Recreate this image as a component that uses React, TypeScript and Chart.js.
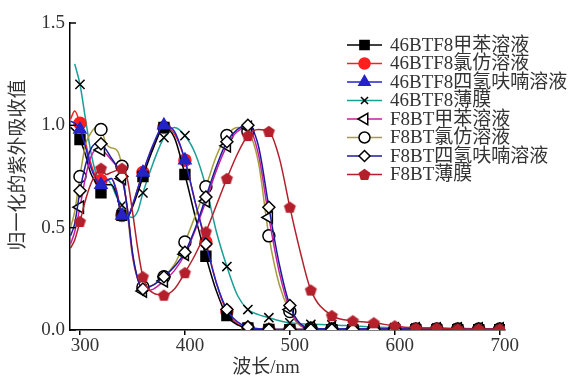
import React, { useEffect, useRef } from 'react';
import { Chart, registerables } from 'chart.js';
import { drawPoint } from 'chart.js/helpers';

Chart.register(...registerables);

// ---- data ----
const WAVELENGTHS = [291, 295, 300, 305, 310, 315, 320, 325, 330, 335, 340, 345, 350, 355, 360, 370, 380, 390, 400, 410, 420, 430, 440, 450, 460, 470, 480, 490, 500, 510, 520, 540, 560, 580, 600, 620, 640, 660, 680, 700];
const X_TICKS = [300, 400, 500, 600, 700];
const Y_TICKS = [0, 0.5, 1.0, 1.5];

const SERIES_NAMES = [
  '46BTF8甲苯溶液',
  '46BTF8氯仿溶液',
  '46BTF8四氢呋喃溶液',
  '46BTF8薄膜',
  'F8BT甲苯溶液',
  'F8BT氯仿溶液',
  'F8BT四氢呋喃溶液',
  'F8BT薄膜',
];

const BTF8_TOLUENE = [0.99, 0.97, 0.93, 0.86, 0.77, 0.72, 0.67, 0.71, 0.71, 0.66, 0.56, 0.55, 0.60, 0.67, 0.75, 0.89, 0.99, 0.94, 0.76, 0.55, 0.36, 0.19, 0.07, 0.025, 0.01, 0.005, 0.003, 0.002, 0.002, 0.002, 0.002, 0.002, 0.002, 0.002, 0.002, 0.002, 0.002, 0.002, 0.002, 0.002];
const BTF8_CHLOROFORM = [1.03, 1.07, 1.01, 0.92, 0.82, 0.75, 0.73, 0.73, 0.74, 0.68, 0.56, 0.55, 0.61, 0.69, 0.77, 0.90, 0.99, 0.96, 0.83, 0.62, 0.43, 0.23, 0.09, 0.03, 0.01, 0.004, 0.002, 0.002, 0.002, 0.002, 0.002, 0.002, 0.002, 0.002, 0.002, 0.002, 0.002, 0.002, 0.002, 0.002];
const BTF8_THF = [1.02, 1.01, 0.98, 0.90, 0.80, 0.74, 0.71, 0.73, 0.74, 0.67, 0.56, 0.55, 0.61, 0.69, 0.77, 0.91, 1.0, 0.97, 0.83, 0.62, 0.42, 0.23, 0.10, 0.04, 0.015, 0.006, 0.003, 0.002, 0.002, 0.002, 0.002, 0.002, 0.002, 0.002, 0.002, 0.002, 0.002, 0.002, 0.002, 0.002];
const BTF8_FILM = [null, 1.30, 1.20, 1.04, 0.88, 0.77, 0.73, 0.74, 0.71, 0.65, 0.61, 0.56, 0.55, 0.58, 0.67, 0.82, 0.94, 0.99, 0.95, 0.86, 0.70, 0.48, 0.31, 0.17, 0.10, 0.075, 0.06, 0.045, 0.035, 0.03, 0.028, 0.025, 0.02, 0.015, 0.012, 0.01, 0.01, 0.008, 0.006, 0.005];
const F8BT_TOLUENE = [0.42, 0.48, 0.60, 0.74, 0.84, 0.88, 0.88, 0.86, 0.83, 0.80, 0.74, 0.60, 0.37, 0.25, 0.19, 0.20, 0.24, 0.29, 0.37, 0.49, 0.63, 0.78, 0.90, 0.97, 0.99, 0.86, 0.55, 0.28, 0.10, 0.025, 0.01, 0.005, 0.005, 0.005, 0.005, 0.005, 0.005, 0.005, 0.005, 0.005];
const F8BT_CHLOROFORM = [0.50, 0.58, 0.75, 0.90, 0.96, 0.99, 0.98, 0.91, 0.89, 0.88, 0.80, 0.58, 0.36, 0.25, 0.21, 0.22, 0.26, 0.32, 0.43, 0.56, 0.70, 0.85, 0.95, 0.99, 0.97, 0.82, 0.46, 0.22, 0.09, 0.02, 0.008, 0.005, 0.005, 0.005, 0.005, 0.005, 0.005, 0.005, 0.005, 0.005];
const F8BT_THF = [0.46, 0.52, 0.68, 0.80, 0.88, 0.91, 0.91, 0.88, 0.84, 0.80, 0.75, 0.60, 0.38, 0.25, 0.20, 0.22, 0.26, 0.31, 0.38, 0.50, 0.65, 0.80, 0.92, 0.98, 1.00, 0.90, 0.60, 0.32, 0.12, 0.03, 0.01, 0.005, 0.005, 0.005, 0.005, 0.005, 0.005, 0.005, 0.005, 0.005];
const F8BT_FILM = [0.40, 0.44, 0.53, 0.63, 0.71, 0.76, 0.79, 0.76, 0.77, 0.78, 0.79, 0.74, 0.58, 0.40, 0.26, 0.18, 0.17, 0.20, 0.28, 0.37, 0.48, 0.61, 0.74, 0.86, 0.95, 0.98, 0.97, 0.84, 0.60, 0.38, 0.195, 0.07, 0.045, 0.035, 0.02, 0.01, 0.01, 0.005, 0.005, 0.005];

const SERIES_VALUES = [BTF8_TOLUENE, BTF8_CHLOROFORM, BTF8_THF, BTF8_FILM, F8BT_TOLUENE, F8BT_CHLOROFORM, F8BT_THF, F8BT_FILM];

// ---- styles ----
const STYLES: any[] = [
  { line: '#000000', marker: 'rect', fill: '#000000', stroke: '#000000', radius: 7, rotation: 0, order: 5 },
  { line: '#ff1f1f', marker: 'circle', fill: '#ff1f1f', stroke: '#ff1f1f', radius: 6, rotation: 0, order: 6 },
  { line: '#2323c8', marker: 'triangle', fill: '#2323c8', stroke: '#2323c8', radius: 7, rotation: 0, order: 1 },
  { line: '#1a9e98', marker: 'crossRot', fill: '#000000', stroke: '#000000', radius: 6.5, rotation: 0, order: 7 },
  { line: '#c81ea0', marker: 'triangle', fill: '#ffffff', stroke: '#000000', radius: 7, rotation: -90, order: 3 },
  { line: '#a59c3c', marker: 'circle', fill: '#ffffff', stroke: '#000000', radius: 6, rotation: 0, order: 4 },
  { line: '#1c1c9a', marker: 'rectRot', fill: '#ffffff', stroke: '#000000', radius: 6, rotation: 0, order: 2 },
  { line: '#b3202c', marker: 'pentagon', fill: '#b3202c', stroke: '#b3202c', radius: 6, rotation: 0, order: 0 },
];

const SERIF = '"Liberation Serif", "Noto Sans CJK SC", serif';

function makePentagon(r: number, color: string) {
  const size = Math.ceil(r * 2 + 2);
  const c = document.createElement('canvas');
  c.width = size;
  c.height = size;
  const g = c.getContext('2d')!;
  g.beginPath();
  for (let i = 0; i < 5; i++) {
    const a = -Math.PI / 2 + (i * 2 * Math.PI) / 5;
    const px = size / 2 + r * Math.cos(a);
    const py = size / 2 + 0.5 + r * Math.sin(a);
    if (i === 0) g.moveTo(px, py);
    else g.lineTo(px, py);
  }
  g.closePath();
  g.fillStyle = color;
  g.fill();
  return c;
}

export default function App() {
  const ref = useRef<HTMLCanvasElement | null>(null);

  useEffect(() => {
    const canvas = ref.current;
    if (!canvas) return;
    const pent = makePentagon(6.3, '#b3202c');
    const markerStyle = (s: any) => (s.marker === 'pentagon' ? pent : s.marker);
    const isMarker = (i: number) => WAVELENGTHS[i] % 20 === 0;

    const datasets = SERIES_VALUES.map((vals, k) => {
      const s = STYLES[k];
      const base: any = {
        label: SERIES_NAMES[k],
        data: vals.map((v, i) => ({ x: WAVELENGTHS[i], y: v })),
        borderColor: s.line,
        backgroundColor: s.fill,
        borderWidth: 1.5,
        cubicInterpolationMode: 'monotone',
        order: s.order,
        pointStyle: markerStyle(s),
        pointRotation: s.rotation,
        pointBackgroundColor: s.fill,
        pointBorderColor: s.stroke,
        pointBorderWidth: 1.5,
        pointRadius: (c: any) => (isMarker(c.dataIndex) ? s.radius : 0),
        pointHoverRadius: (c: any) => (isMarker(c.dataIndex) ? s.radius : 0),
      };
      if (k === 2) {
        // 46BTF8 THF: filled triangles up to 400 nm, then open diamonds
        base.pointStyle = (c: any) => (WAVELENGTHS[c.dataIndex] <= 400 ? 'triangle' : 'rectRot');
        base.pointBackgroundColor = (c: any) => (WAVELENGTHS[c.dataIndex] <= 400 ? s.fill : '#ffffff');
        base.pointBorderColor = (c: any) => (WAVELENGTHS[c.dataIndex] <= 400 ? s.stroke : '#000000');
        base.pointRadius = (c: any) => {
          const w = WAVELENGTHS[c.dataIndex];
          if (w % 20 !== 0 || w > 600) return 0;
          return w <= 400 ? 7 : 6;
        };
      }
      return base;
    });

    const overlay = {
      id: 'overlay',
      afterDraw(chart: any) {
        const ctx = chart.ctx;
        const area = chart.chartArea;
        const y = chart.scales.y;
        ctx.save();
        // inward y ticks
        ctx.strokeStyle = '#000';
        ctx.lineWidth = 1.5;
        Y_TICKS.forEach((v) => {
          const py = y.getPixelForValue(v);
          ctx.beginPath();
          ctx.moveTo(area.left, py);
          ctx.lineTo(area.left + 6, py);
          ctx.stroke();
        });
        // axis titles
        ctx.fillStyle = '#333';
        ctx.font = '19px ' + SERIF;
        ctx.textAlign = 'center';
        ctx.textBaseline = 'middle';
        ctx.fillText('波长/nm', 266, 368);
        ctx.save();
        ctx.translate(19, 165);
        ctx.rotate(-Math.PI / 2);
        ctx.fillText('归一化的紫外吸收值', 0, 0);
        ctx.restore();
        // legend
        ctx.textAlign = 'left';
        SERIES_NAMES.forEach((name, k) => {
          const s = STYLES[k];
          const ry = 45 + k * 18.5;
          ctx.strokeStyle = s.line;
          ctx.lineWidth = 1.5;
          ctx.beginPath();
          ctx.moveTo(347, ry);
          ctx.lineTo(382, ry);
          ctx.stroke();
          ctx.fillStyle = s.fill;
          ctx.strokeStyle = s.stroke;
          ctx.lineWidth = 1.5;
          drawPoint(ctx, { pointStyle: markerStyle(s), radius: s.marker === 'rect' ? 6.5 : s.marker === 'crossRot' ? 5 : s.radius - 0.5, rotation: s.rotation, borderWidth: 1.5 } as any, 364.5, ry);
          ctx.fillStyle = '#333';
          ctx.fillText(name, 390, ry + 1);
        });
        ctx.restore();
      },
    };

    const chart = new Chart(canvas, {
      type: 'line',
      data: { datasets },
      options: {
        animation: false,
        responsive: false,
        events: [],
        layout: { padding: { left: 0, right: 67, top: 23, bottom: 0 } },
        plugins: { legend: { display: false }, tooltip: { enabled: false } },
        scales: {
          x: {
            type: 'linear',
            min: 290.5,
            max: 705,
            afterBuildTicks: (sc: any) => {
              sc.ticks = X_TICKS.map((v) => ({ value: v }));
            },
            afterFit: (sc: any) => {
              sc.height = 49;
            },
            border: { display: true, color: '#000', width: 1.5 },
            grid: { display: true, drawOnChartArea: false, drawTicks: true, tickLength: 5, color: '#000', lineWidth: 1.5 },
            ticks: { color: '#333', font: { family: SERIF, size: 19 }, padding: 0, labelOffset: 5, maxRotation: 0 },
          },
          y: {
            type: 'linear',
            min: 0,
            max: 1.5,
            afterBuildTicks: (sc: any) => {
              sc.ticks = Y_TICKS.map((v) => ({ value: v }));
            },
            afterFit: (sc: any) => {
              sc.width = 70;
            },
            border: { display: true, color: '#000', width: 1.5 },
            grid: { display: true, drawOnChartArea: false, drawTicks: false },
            ticks: {
              color: '#333',
              font: { family: SERIF, size: 19 },
              padding: 5,
              callback: (v: any) => Number(v).toFixed(1),
            },
          },
        },
      },
      plugins: [overlay],
    });
    return () => chart.destroy();
  }, []);

  return (
    <div style={{ position: 'absolute', left: 0, top: 0, width: 572, height: 379, background: '#fff' }}>
      <canvas ref={ref} width={572} height={379} style={{ display: 'block' }} />
    </div>
  );
}
